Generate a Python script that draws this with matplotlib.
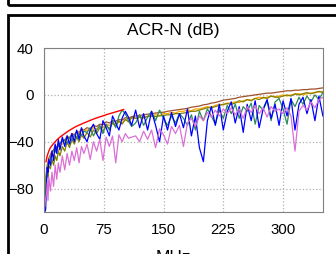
import matplotlib
matplotlib.use("Agg")
import matplotlib.pyplot as plt
from matplotlib.patches import Rectangle

plt.rcParams['font.family'] = ['Liberation Sans', 'DejaVu Sans']

# frequency grid (MHz) shared by all measured pairs
freq = [1, 2, 3, 4, 5, 6, 8, 10, 12, 14, 16, 18, 20,
        23, 26, 29, 32, 35, 38, 41, 44, 47, 50,
        54, 58, 62, 66, 70, 74, 78, 82, 86, 90, 94, 98, 102, 106, 110,
        115, 120, 125, 130, 135, 140, 145, 150, 155, 160, 165, 170,
        175, 180, 185, 190, 195, 200, 205, 210, 215, 220, 225, 230,
        235, 240, 245, 250, 255, 260, 265, 270, 275, 280, 285, 290,
        295, 300, 305, 310, 315, 320, 325, 330, 335, 340, 345, 350]

brown = [-84, -72, -66, -60, -57, -54, -51, -48, -47, -43, -45, -41, -42,
         -38, -39, -35, -37, -33, -34, -31, -32, -29, -30,
         -28, -29, -26, -27, -25, -25.5, -23, -24, -22, -22.5, -21, -21.5, -19.5, -20, -18.5,
         -18, -17.5, -17, -16.5, -16, -15.5, -15, -14.8, -14, -13.5, -13, -12.5,
         -12, -11.5, -10.5, -10, -9.5, -8.5, -8, -7, -6.5, -5.5, -4.5, -4,
         -3.5, -3, -2, -1.5, -1, -0.5, 0, 0.5, 1, 1.5, 1.5, 2,
         2.5, 3, 3.5, 3.5, 4, 4, 4.5, 4.5, 5, 5, 5.5, 6]

orange = [-90, -78, -70, -64, -60, -57, -53, -50, -52, -47, -46, -48, -43,
          -42, -40, -41, -37, -38, -35, -36, -33, -34, -31,
          -30, -31, -28, -29, -27, -28, -25, -26, -24, -25, -23, -24, -21, -22, -20,
          -20, -19, -20, -18, -18, -17, -17.5, -16, -16, -15, -15.5, -14,
          -14, -13, -13.5, -12, -12, -11, -10, -10.5, -9, -8, -8.5, -7,
          -7, -6, -6.5, -5, -4, -4.5, -3, -2, -3, -2, -1, -1.5,
          -1, 0, -1, 0, 0.5, 1, 0, 1, 1.5, 2, 2.5, 3]

olive = [-95, -80, -72, -66, -70, -60, -63, -55, -60, -52, -56, -48, -52,
         -44, -48, -40, -45, -38, -42, -36, -40, -34, -37,
         -32, -36, -30, -33, -28, -31, -26, -29, -24, -27, -22, -25, -21, -23, -19,
         -20, -19, -19, -18.5, -18, -18.5, -18, -17.5, -17, -17, -16, -16,
         -15.5, -15, -14, -14, -13, -12, -11, -11, -10, -9, -8, -7.5,
         -8, -7, -5, -6, -4, -5, -3, -4, -2, -3, -1, -2,
         -2, -1, 0, -1, 1, 0, 1, 2, 1, 2, 3, 2]

green = [-92, -82, -70, -65, -60, -58, -54, -50, -47, -49, -45, -44, -41,
         -40, -38, -42, -36, -39, -34, -37, -33, -35, -31,
         -32, -28, -35, -30, -26, -33, -25, -30, -22, -28, -18, -13, -16, -22, -27,
         -24, -17, -26, -19, -14, -22, -13, -20, -26, -18, -24, -16,
         -20, -26, -17, -30, -14, -22, -12, -18, -25, -13, -20, -9,
         -16, -8, -20, -10, -14, -7, -25, -9, -13, -5, -22, -6,
         -3, -12, -25, -4, -10, -2, -8, -1, -6, 0, -4, 2]

blue = [-100, -98, -80, -62, -66, -55, -60, -48, -56, -42, -50, -38, -47,
        -36, -44, -35, -42, -33, -40, -30, -38, -28, -35,
        -40, -30, -25, -33, -38, -22, -28, -35, -18, -24, -30, -20, -14, -19, -26,
        -13, -28, -16, -30, -14, -26, -40, -18, -30, -15, -27, -16,
        -28, -12, -35, -18, -45, -57, -22, -10, -26, -8, -30, -14,
        -6, -24, -10, -32, -8, -22, -5, -28, -12, -4, -20, -8,
        -26, -5, -18, -3, -30, -8, -2, -16, -4, -22, -1, -18]

violet = [-95, -88, -85, -75, -90, -70, -82, -66, -78, -60, -72, -58, -66,
          -52, -64, -50, -60, -48, -56, -45, -58, -44, -50,
          -42, -55, -40, -48, -38, -56, -36, -44, -35, -58, -34, -40, -33, -37, -36,
          -35, -40, -31, -38, -30, -45, -29, -34, -42, -27, -33, -26,
          -44, -24, -20, -27, -18, -22, -15, -19, -13, -18, -12, -16,
          -11, -17, -12, -20, -10, -15, -9, -16, -11, -19, -10, -14,
          -12, -16, -11, -18, -48, -14, -9, -13, -6, -11, -4, -2]

# limit line (only defined up to 100 MHz)
limit_freq = [2.5, 4, 6, 8, 12, 16, 20, 25, 31.25, 40, 50, 62.5, 80, 100]
limit_db = [-57, -52, -48, -45, -41.5, -38.5, -36, -33.5, -30.5, -27, -24, -20.5, -16.5, -12.5]

x_ticks = [0, 75, 150, 225, 300]
y_ticks = [-80, -40, 0, 40]

fig = plt.figure(figsize=(3.36, 2.54), dpi=100)
ax = fig.add_axes([0.131, 0.165, 0.830, 0.646])

series = [(brown, "#a0522d"), (orange, "#ffa500"), (olive, "#808000"),
          (green, "#2e8b57"), (blue, "#0000ff"), (violet, "#da70d6")]
for vals, col in series:
    ax.plot(freq, vals, color=col, linewidth=0.9)
ax.plot(limit_freq, limit_db, color="red", linewidth=1.0)

ax.set_xlim(0, 350)
ax.set_ylim(-100, 40)
ax.set_xticks(x_ticks)
ax.set_yticks(y_ticks)
ax.tick_params(length=0, labelsize=10.8, pad=7.5)
ax.grid(color="#b0b0b0", linestyle=":", linewidth=0.9)
for sp in ax.spines.values():
    sp.set_color("#808080")

fig.text(173 / 336, 1 - 31 / 254, "ACR-N (dB)", ha="center", va="center", fontsize=12.5)
fig.text(173 / 336, 1 - 250 / 254, "MHz", ha="center", va="top", fontsize=12.5)

# panel frames (partly outside the canvas)
fig.patches.append(Rectangle((8 / 336, 1 - 5.3 / 254), 1.2, 1, transform=fig.transFigure,
                             fill=False, edgecolor="black", linewidth=2))
fig.patches.append(Rectangle((8 / 336, -1), 1.2, 2 - 15 / 254, transform=fig.transFigure,
                             fill=False, edgecolor="black", linewidth=2))

fig.savefig("out.png", dpi=100)
